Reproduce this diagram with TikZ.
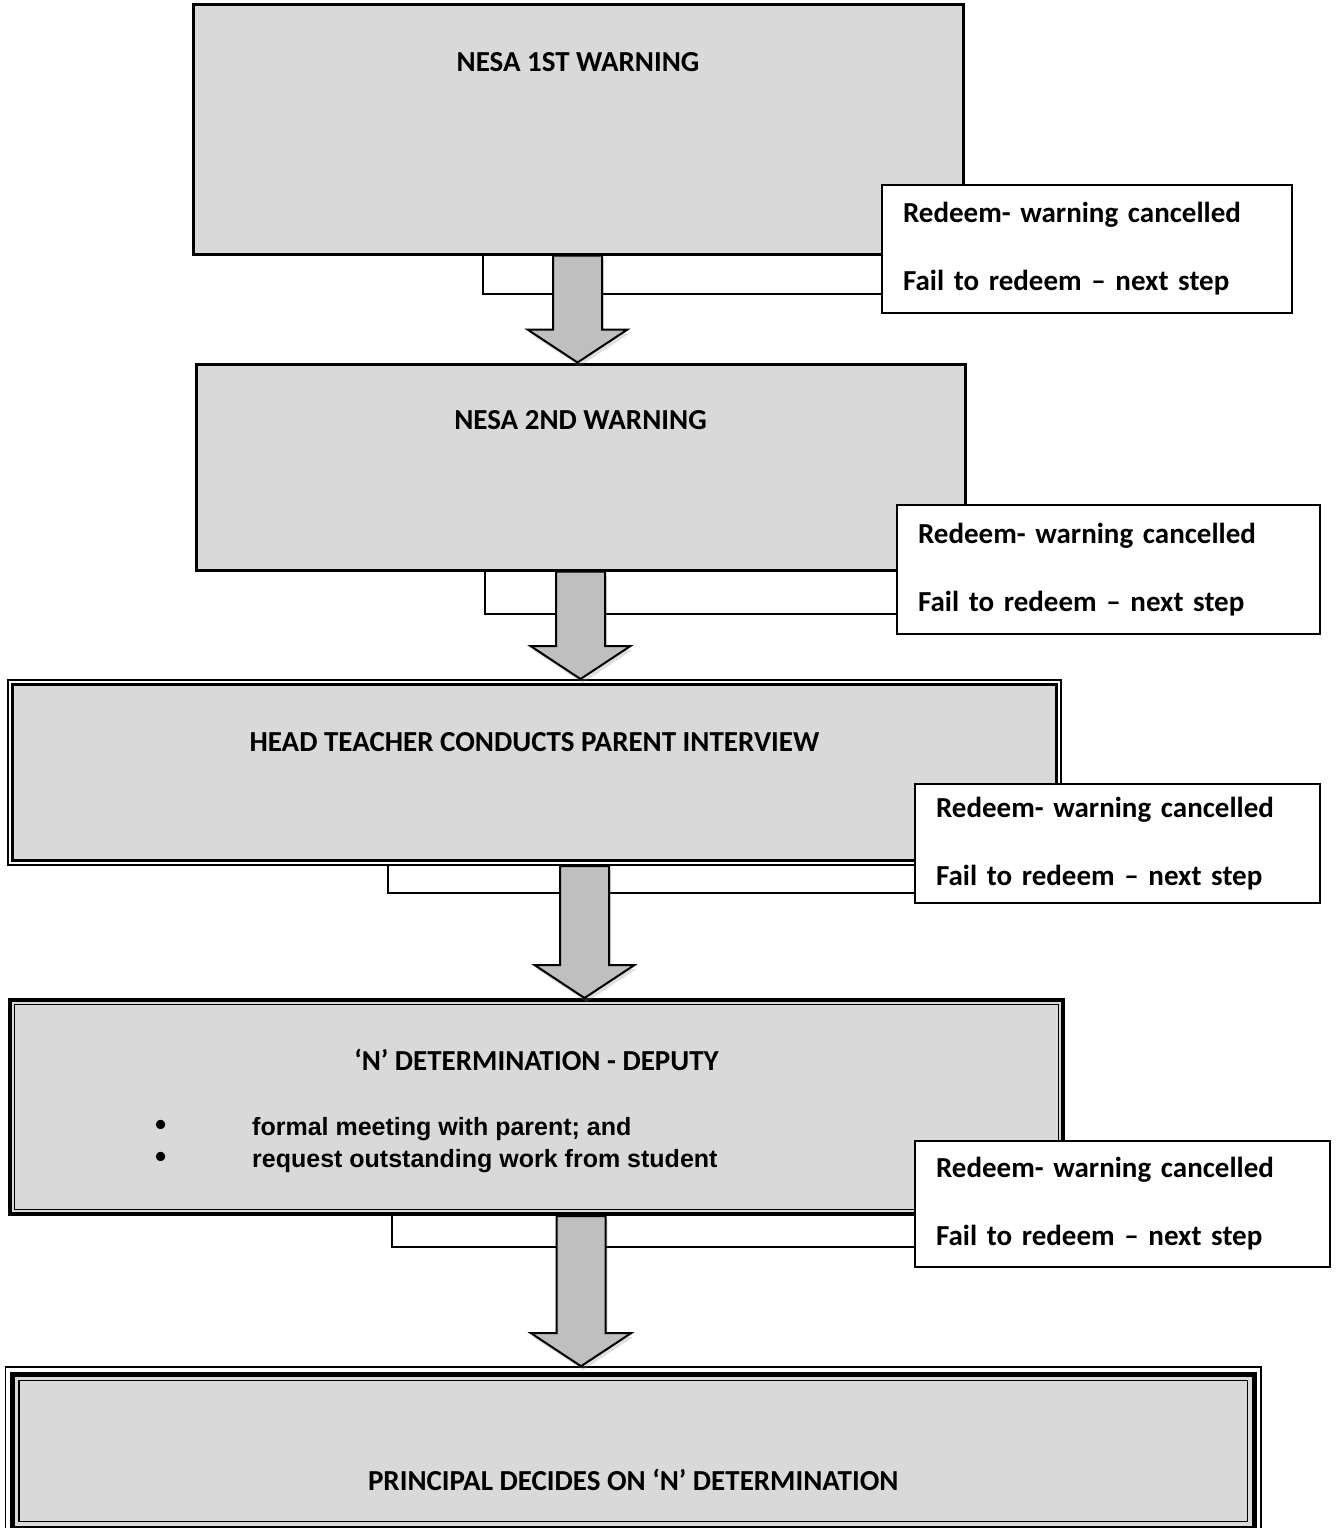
\documentclass[tikz,border=0pt]{standalone}
\usepackage{fontspec}
\setmainfont{Carlito}
\newfontfamily\arialfont{Liberation Sans}
\usetikzlibrary{calc,fit,shadows}
\definecolor{boxgray}{HTML}{D9D9D9}
\definecolor{arrowgray}{HTML}{BFBFBF}

\newcommand{\steparrow}[3]{%
	\path (#1,0 |- #2.south) coordinate (top) (#1,0 |- #3.north) coordinate (tip);
	\draw[bigarrow] ($(top)+(-24.5,0)$) -- ($(top)+(24.5,0)$) -- ($(tip)+(24.5,-33)$)
		-- ($(tip)+(50,-33)$) -- (tip) -- ($(tip)+(-50,-33)$) -- ($(tip)+(-24.5,-33)$) -- cycle;
}
\newcommand{\listdot}{\makebox[97pt][l]{\fontsize{32}{32}\selectfont\textbullet}}

\begin{document}
\begin{tikzpicture}[x=1pt,y=-1pt,
		stepbox/.style={draw, line width=3pt, fill=boxgray, inner sep=0pt},
		rimline/.style={draw, line width=#1, inner sep=0pt},
		title/.style={inner sep=0pt, font=\fontsize{29}{35}\selectfont\bfseries},
		sidebox/.style={draw, line width=1.5pt, fill=white, inner xsep=21pt, inner ysep=0pt, align=left,
			font=\fontsize{29}{68}\selectfont\bfseries},
		listtext/.style={inner sep=0pt, align=left, font=\arialfont\fontsize{25}{32}\selectfont\bfseries},
		link/.style={draw, line width=1.5pt},
		bigarrow/.style={draw, line width=2pt, fill=arrowgray, line join=miter,
			drop shadow={opacity=0.25, shadow xshift=2pt, shadow yshift=-4pt}}]
	\clip (0,0) rectangle (1336,1528);

	\node[stepbox, fit={(193,5) (963,254)}] (b1) {};
	\node[stepbox, fit={(196,364) (965,570)}] (b2) {};
	\node[rimline=2pt, fill=white, fit={(8,680) (1061,865)}] (b3) {};
	\node[stepbox, fit={(12.5,684.5) (1056.5,860.5)}] (b3in) {};
	\node[stepbox, line width=4pt, fit={(10,1000) (1063,1214)}] (b4) {};
	\node[rimline=1.5pt, fit={(14.5,1004.5) (1058.5,1209.5)}] (b4in) {};
	\node[rimline=1.6pt, fill=white, fit={(5.5,1367) (1261,1535)}] (b5) {};
	\node[stepbox, line width=5pt, fit={(12.5,1374) (1254,1528)}] (b5mid) {};
	\node[rimline=1.5pt, fit={(19,1380.5) (1247.5,1521.5)}] (b5in) {};

	\draw[link] (483,0 |- b1.south) |- (882,294);
	\draw[link] (485,0 |- b2.south) |- (897,614);
	\draw[link] (388,0 |- b3.south) |- (915,893);
	\draw[link] (392,0 |- b4.south) |- (915,1247);

	\node[sidebox, text width=368pt, minimum height=128pt] (s1) at (1087,249) {Redeem- warning cancelled\\Fail to redeem – next step};
	\node[sidebox, text width=381pt, minimum height=129pt] (s2) at (1108.5,569.5) {Redeem- warning cancelled\\Fail to redeem – next step};
	\node[sidebox, text width=363pt, minimum height=119pt] (s3) at (1117.5,843.5) {Redeem- warning cancelled\\Fail to redeem – next step};
	\node[sidebox, text width=373pt, minimum height=126pt] (s4) at (1122.5,1204) {Redeem- warning cancelled\\Fail to redeem – next step};

	\steparrow{577.5}{b1}{b2}
	\steparrow{580.5}{b2}{b3}
	\steparrow{584.5}{b3}{b4}
	\steparrow{581}{b4}{b5}

	\node[title] (t1) at (b1.center |- 0,62) {NESA 1ST WARNING};
	\node[title] (t2) at (b2.center |- 0,420) {NESA 2ND WARNING};
	\node[title] (t3) at (b3.center |- 0,742) {HEAD TEACHER CONDUCTS PARENT INTERVIEW};
	\node[title] (t4) at (b4.center |- 0,1060) {‘N’ DETERMINATION - DEPUTY};
	\node[listtext, anchor=west] (l4) at (155,1145) {\listdot formal meeting with parent; and\\
		\listdot request outstanding work from student};
	\node[title] (t5) at (b5.center |- 0,1480) {PRINCIPAL DECIDES ON ‘N’ DETERMINATION};
\end{tikzpicture}
\end{document}
